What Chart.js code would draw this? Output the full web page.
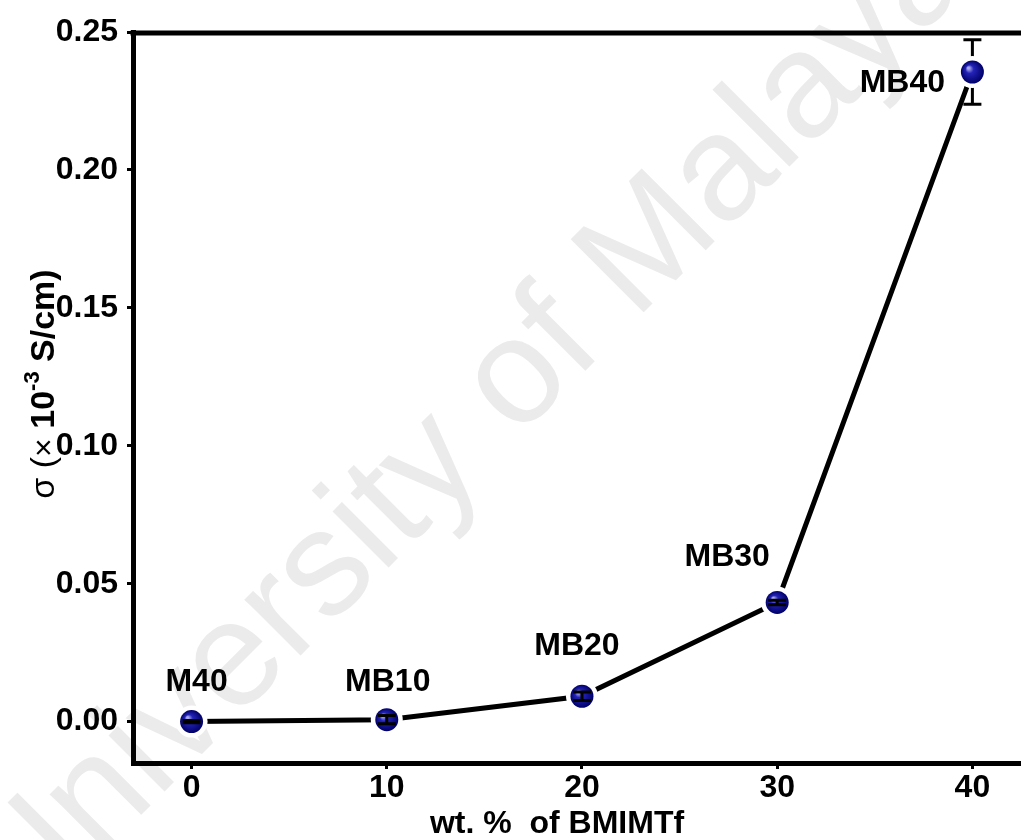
<!DOCTYPE html>
<html>
<head>
<meta charset="utf-8">
<script src="https://cdn.jsdelivr.net/npm/chart.js@4/dist/chart.umd.min.js"></script>
<style>
  html, body { margin: 0; padding: 0; background: #fff; overflow: hidden; }
  #chart { display: block; }
</style>
</head>
<body>
<canvas id="chart" width="1080" height="840"></canvas>
<script>
// Data.
var wtPercent = [0, 10, 20, 30, 40];
var sigmaValues = [0.0000, 0.0007, 0.0092, 0.0432, 0.2355];
var sigmaErrors = [0.0004, 0.0015, 0.0015, 0.0008, 0.0117];
var sampleNames = ['M40', 'MB10', 'MB20', 'MB30', 'MB40'];
var xTickValues = [0, 10, 20, 30, 40];
var yTickValues = [0, 0.05, 0.10, 0.15, 0.20, 0.25];
var xAxisTitle = 'wt. %  of BMIMTf';
var watermarkText = 'University of Malaya';

var FONT = '"Liberation Sans", Arial, sans-serif';

/**
 * @description Faint diagonal watermark behind the plot.
 */
function drawWatermark(ctx) {
  ctx.save();
  ctx.translate(22, 934);
  ctx.rotate(-Math.PI / 4);
  ctx.font = '150px ' + FONT;
  ctx.fillStyle = '#ebebeb';
  ctx.textBaseline = 'alphabetic';
  ctx.textAlign = 'left';
  ctx.fillText(watermarkText, 0, 0);
  ctx.restore();
}

/**
 * @description Blue shaded sphere marker with a white gap round it.
 */
function drawSphere(ctx, x, y) {
  ctx.beginPath();
  ctx.arc(x, y, 16, 0, Math.PI * 2);
  ctx.fillStyle = '#fff';
  ctx.fill();

  var grad = ctx.createRadialGradient(x - 4, y - 4, 1, x, y, 11.5);
  grad.addColorStop(0, '#a8a8f0');
  grad.addColorStop(0.3, '#2323b8');
  grad.addColorStop(1, '#000068');
  ctx.beginPath();
  ctx.arc(x, y, 11.5, 0, Math.PI * 2);
  ctx.fillStyle = grad;
  ctx.fill();
}

/**
 * @description Vertical error bar with caps.
 */
function drawErrorBar(ctx, x, yTop, yBottom) {
  ctx.save();
  ctx.strokeStyle = '#000';
  ctx.lineWidth = 3;
  ctx.beginPath();
  ctx.moveTo(x, yTop);
  ctx.lineTo(x, yBottom);
  ctx.moveTo(x - 9, yTop);
  ctx.lineTo(x + 9, yTop);
  ctx.moveTo(x - 9, yBottom);
  ctx.lineTo(x + 9, yBottom);
  ctx.stroke();
  ctx.restore();
}

/**
 * @description Rotated y title: σ (× 10^-3 S/cm).
 */
function drawYTitle(ctx, cx, cy) {
  var parts = [
    { text: 'σ', font: '34px ' + FONT, dy: 0 },
    { text: ' (', font: '34px ' + FONT, dy: 0 },
    { text: '×', font: '32px ' + FONT, dy: 0 },
    { text: ' 10', font: 'bold 34px ' + FONT, dy: 0 },
    { text: '-3', font: 'bold 22px ' + FONT, dy: -15 },
    { text: ' S/cm)', font: 'bold 34px ' + FONT, dy: 0 },
  ];
  var total = 0;
  parts.forEach(function (p) {
    ctx.font = p.font;
    p.w = ctx.measureText(p.text).width;
    total += p.w;
  });

  ctx.save();
  ctx.translate(cx, cy);
  ctx.rotate(-Math.PI / 2);
  ctx.fillStyle = '#000';
  ctx.textAlign = 'left';
  ctx.textBaseline = 'alphabetic';
  var x = -total / 2;
  parts.forEach(function (p) {
    ctx.font = p.font;
    ctx.fillText(p.text, x, p.dy);
    x += p.w;
  });
  ctx.restore();
}

var decorPlugin = {
  id: 'decor',
  beforeDraw: function (chart) {
    drawWatermark(chart.ctx);
  },
  afterDatasetsDraw: function (chart) {
    var ctx = chart.ctx;
    var meta = chart.getDatasetMeta(0);
    var yScale = chart.scales.y;
    // label offsets from each point centre
    var nameOffsets = [[5, -39], [1, -38], [-5, -50], [-50, -45], [-70, 11]];

    meta.data.forEach(function (pt, i) {
      drawSphere(ctx, pt.x, pt.y);
      drawErrorBar(
        ctx,
        pt.x,
        yScale.getPixelForValue(sigmaValues[i] + sigmaErrors[i]),
        yScale.getPixelForValue(sigmaValues[i] - sigmaErrors[i])
      );
      if (sigmaErrors[i] > 0.005) {
        drawSphere(ctx, pt.x, pt.y);
      }

      ctx.save();
      ctx.font = 'bold 32px ' + FONT;
      ctx.fillStyle = '#000';
      ctx.textAlign = 'center';
      ctx.textBaseline = 'middle';
      ctx.fillText(sampleNames[i], pt.x + nameOffsets[i][0], pt.y + nameOffsets[i][1]);
      ctx.restore();
    });
  },
  afterDraw: function (chart) {
    var ctx = chart.ctx;
    var area = chart.chartArea;

    // top frame line
    ctx.save();
    ctx.strokeStyle = '#000';
    ctx.lineWidth = 5;
    ctx.beginPath();
    ctx.moveTo(area.left - 2.5, area.top + 1);
    ctx.lineTo(chart.width, area.top + 1);
    ctx.stroke();
    ctx.restore();

    // x title
    ctx.save();
    ctx.font = 'bold 32px ' + FONT;
    ctx.fillStyle = '#000';
    ctx.textAlign = 'center';
    ctx.textBaseline = 'alphabetic';
    ctx.fillText(xAxisTitle, 557, 833);
    ctx.restore();

    drawYTitle(ctx, 54, 384);
  },
};

var points = wtPercent.map(function (x, i) {
  return { x: x, y: sigmaValues[i] };
});

new Chart(document.getElementById('chart'), {
  type: 'line',
  data: {
    datasets: [{
      data: points,
      borderColor: '#000',
      borderWidth: 5,
      pointRadius: 0,
      tension: 0,
      fill: false,
    }],
  },
  options: {
    responsive: false,
    animation: false,
    devicePixelRatio: 1,
    layout: { padding: { top: 32, right: 10, bottom: 0, left: 0 } },
    plugins: {
      legend: { display: false },
      tooltip: { enabled: false },
    },
    scales: {
      x: {
        type: 'linear',
        min: -3,
        max: 45,
        afterBuildTicks: function (scale) {
          scale.ticks = xTickValues.map(function (v) { return { value: v }; });
        },
        afterFit: function (scale) {
          scale.height = 77;
        },
        grid: {
          display: true,
          drawOnChartArea: false,
          drawTicks: true,
          tickLength: 6,
          tickWidth: 3,
          tickColor: '#000',
        },
        border: { display: true, width: 5, color: '#000' },
        ticks: {
          color: '#000',
          padding: 0,
          maxRotation: 0,
          font: { family: FONT, size: 32, weight: 'bold' },
          callback: function (v) { return String(v); },
        },
      },
      y: {
        type: 'linear',
        min: -0.015,
        max: 0.25,
        afterBuildTicks: function (scale) {
          scale.ticks = yTickValues.map(function (v) { return { value: v }; });
        },
        afterFit: function (scale) {
          scale.width = 133;
        },
        grid: {
          display: true,
          drawOnChartArea: false,
          drawTicks: true,
          tickLength: 6,
          tickWidth: 3,
          tickColor: '#000',
        },
        border: { display: true, width: 5, color: '#000' },
        ticks: {
          color: '#000',
          padding: 9,
          font: { family: FONT, size: 32, weight: 'bold' },
          callback: function (v) { return Number(v).toFixed(2); },
        },
      },
    },
  },
  plugins: [decorPlugin],
});
</script>
</body>
</html>
